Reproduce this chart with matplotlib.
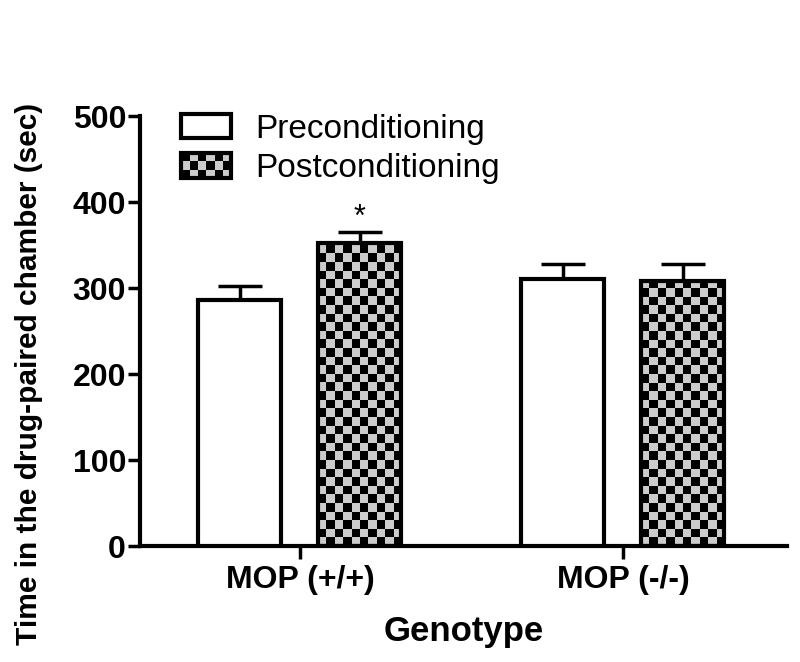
import numpy as np
import matplotlib
matplotlib.use('Agg')
import matplotlib.pyplot as plt
from matplotlib.patches import Rectangle
from matplotlib.colors import ListedColormap
from matplotlib.legend_handler import HandlerBase

groups = ['MOP (+/+)', 'MOP (-/-)']
series = ['Preconditioning', 'Postconditioning']
pre_mean = [286, 310]
pre_err = [16, 18]
post_mean = [352, 308]
post_err = [13, 20]
yticks = [0, 100, 200, 300, 400, 500]

plt.rcParams['font.family'] = ['Liberation Sans', 'DejaVu Sans']

GRAY = '#cccccc'
EDGE_LW = 3

fig = plt.figure(figsize=(8, 6.62), dpi=100)
ax = fig.add_axes([140/800, 1-546/662, 647/800, 430/662])
x = np.arange(len(groups))
w = 0.257
off = 0.186

# error bars (upper only)
ax.errorbar(x - off, pre_mean, yerr=[np.zeros(len(pre_err)), pre_err], fmt='none',
            ecolor='black', elinewidth=2.5, capsize=16, capthick=2.5, zorder=1)
ax.errorbar(x + off, post_mean, yerr=[np.zeros(len(post_err)), post_err], fmt='none',
            ecolor='black', elinewidth=2.5, capsize=16, capthick=2.5, zorder=1)

b1 = ax.bar(x - off, pre_mean, w, color='white', edgecolor='black', linewidth=EDGE_LW,
            zorder=3, label=series[0])
b2 = ax.bar(x + off, post_mean, w, color=GRAY, edgecolor='none', zorder=2)
cmap = ListedColormap([GRAY, 'black'])
for bar in b2:
    x0 = bar.get_x(); h = bar.get_height(); bw = bar.get_width()
    nx = 10; cy = 10.0; ny = int(np.ceil(h / cy))
    img = np.add.outer(np.arange(ny), np.arange(nx)) % 2
    im = ax.imshow(img, cmap=cmap, extent=(x0, x0 + bw, 0, ny * cy), origin='lower',
                   interpolation='nearest', aspect='auto', zorder=2.5)
    im.set_clip_path(bar)
ax.bar(x + off, post_mean, w, fill=False, edgecolor='black', linewidth=EDGE_LW, zorder=3)

ax.text(x[0] + off, post_mean[0] + post_err[0] - 1, '*', ha='center', va='bottom',
        fontsize=22)

ax.set_xlim(-0.495, 1.508)
ax.set_ylim(0, 500)
ax.set_yticks(yticks)
ax.set_xticks(x)
ax.set_xticklabels(groups)
ax.set_aspect('auto')

for s in ['top', 'right']:
    ax.spines[s].set_visible(False)
for s in ['left', 'bottom']:
    ax.spines[s].set_linewidth(3)
ax.tick_params(axis='both', direction='out', length=9, width=2.5, labelsize=23)
ax.tick_params(axis='y', pad=1)
ax.tick_params(axis='x', pad=5)
for lbl in ax.get_xticklabels() + ax.get_yticklabels():
    lbl.set_fontweight('bold')

ax.set_xlabel('Genotype', fontsize=25, fontweight='bold', labelpad=14)
ax.set_ylabel('Time in the drug-paired chamber (sec)', fontsize=21.5, fontweight='bold')
ax.yaxis.set_label_coords(-0.15, 0.40)


class CheckerHandler(HandlerBase):
    def create_artists(self, legend, orig_handle, xdescent, ydescent, width, height,
                       fontsize, trans):
        arts = []
        x0, y0 = -xdescent, -ydescent
        arts.append(Rectangle((x0, y0), width, height, facecolor=GRAY, edgecolor='none',
                              transform=trans))
        nx, ny = 6, 3
        cw, ch = width / nx, height / ny
        for i in range(nx):
            for j in range(ny):
                if (i + j) % 2 == 0:
                    arts.append(Rectangle((x0 + i * cw, y0 + j * ch), cw, ch,
                                          facecolor='black', edgecolor='none', transform=trans))
        arts.append(Rectangle((x0, y0), width, height, facecolor='none', edgecolor='black',
                              linewidth=EDGE_LW, transform=trans))
        return arts


pre_handle = Rectangle((0, 0), 1, 1, facecolor='white', edgecolor='black', linewidth=EDGE_LW)
post_handle = Rectangle((0, 0), 1, 1, facecolor=GRAY, edgecolor='black', linewidth=EDGE_LW)
ax.legend([pre_handle, post_handle], series, handler_map={post_handle: CheckerHandler()},
          loc='upper left', bbox_to_anchor=(0.064, 1.005), frameon=False, fontsize=24,
          handlelength=1.5, handleheight=0.75, handletextpad=0.72, labelspacing=0.25,
          borderpad=0, borderaxespad=0)

fig.savefig('out.png', dpi=100)
